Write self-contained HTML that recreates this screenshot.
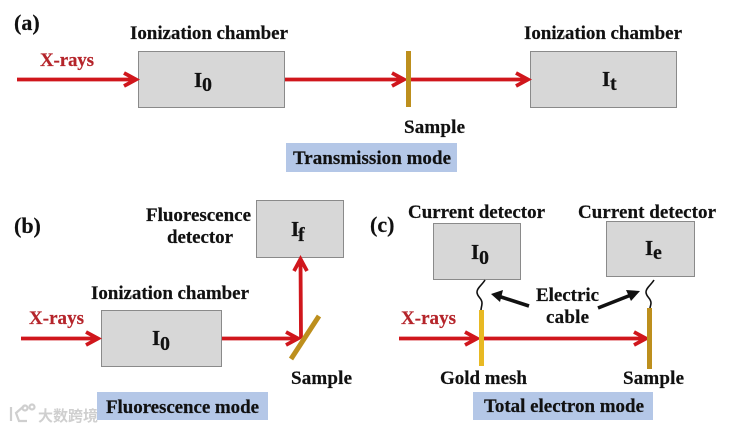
<!DOCTYPE html>
<html>
<head>
<meta charset="utf-8">
<style>
html,body{margin:0;padding:0;background:#fff;width:743px;height:429px;overflow:hidden}
svg{display:block;filter:blur(.3px)}
text{font-family:"Liberation Serif","Noto Serif CJK SC",serif;font-weight:bold;fill:#111;stroke:#111;stroke-width:.2}
.r{fill:#b5242a;stroke:#b5242a}
.box{fill:#d7d7d7;stroke:#8a8a8a;stroke-width:1}
.blue{fill:#b4c7e7}
.ray{stroke:#d0161c;stroke-width:3.8;fill:none}
.l{font-size:19px}
.s{font-size:21px}
.sub{font-size:20px}
.p{font-size:22px}
</style>
</head>
<body>
<svg width="743" height="429" viewBox="0 0 743 429" xmlns="http://www.w3.org/2000/svg">
<!-- Panel a -->
<text class="p" x="14" y="30">(a)</text>
<text class="l" x="130" y="39" textLength="158">Ionization chamber</text>
<text class="l" x="524" y="39" textLength="158">Ionization chamber</text>
<text class="l r" x="40" y="66" textLength="54">X-rays</text>
<rect class="box" x="138.5" y="51.5" width="146" height="56"/>
<rect class="box" x="530.5" y="51.5" width="146" height="56"/>
<path class="ray" d="M17 79.5H135M124 73L136 79.5L124 86"/>
<path class="ray" d="M285 79.5H404M392 73L404 79.5L392 86"/>
<path class="ray" d="M411 79.5H528M516 73L528 79.5L516 86"/>
<rect x="406" y="51" width="5" height="56" fill="#bd8f1d"/>
<text class="s" x="194" y="87">I</text><text class="sub" x="202" y="91">0</text>
<text class="s" x="602" y="86">I</text><text class="sub" x="610" y="90">t</text>
<text class="l" x="404" y="133" textLength="61">Sample</text>
<rect class="blue" x="286" y="143" width="171" height="29"/>
<text class="l" x="293" y="164" textLength="158">Transmission mode</text>

<!-- Panel b -->
<text class="p" x="14" y="233">(b)</text>
<text class="l" x="146" y="221" textLength="105">Fluorescence</text>
<text class="l" x="167" y="243" textLength="66">detector</text>
<rect class="box" x="256.5" y="200.5" width="87" height="57"/>
<text class="s" x="291" y="236">I</text><text class="sub" x="298" y="241">f</text>
<text class="l" x="91" y="299" textLength="158">Ionization chamber</text>
<text class="l r" x="29" y="324" textLength="55">X-rays</text>
<rect class="box" x="101.5" y="310.5" width="120" height="56"/>
<text class="s" x="152" y="345">I</text><text class="sub" x="160" y="350">0</text>
<path class="ray" d="M21 338.5H98M86 332L98 338.5L86 345"/>
<path class="ray" d="M222 338.5H298M286 332L298 338.5L286 345"/>
<path class="ray" d="M301 338L300.5 260M294 271L300.500 259L307 271"/>
<path d="M291 359L319 316" stroke="#bd8f1d" stroke-width="5" fill="none"/>
<text class="l" x="291" y="384" textLength="61">Sample</text>
<rect class="blue" x="97" y="392" width="171" height="28"/>
<text class="l" x="106" y="413" textLength="153">Fluorescence mode</text>

<!-- Panel c -->
<text class="p" x="370" y="232">(c)</text>
<text class="l" x="408" y="218" textLength="137">Current detector</text>
<text class="l" x="578" y="218" textLength="138">Current detector</text>
<rect class="box" x="433.5" y="223.5" width="87" height="56"/>
<rect class="box" x="606.5" y="221.5" width="88" height="55"/>
<text class="s" x="471" y="259">I</text><text class="sub" x="479" y="264">0</text>
<text class="s" x="645" y="255">I</text><text class="sub" x="653" y="259">e</text>
<path d="M485 280C482 285 477 288 477 292C477 297 482 298 482 303C482 306 481 308 481 310" stroke="#111" stroke-width="1.600" fill="none"/>
<path d="M654 280C651 285 646 288 646 292C646 297 651 298 651 303C651 305 650 307 650 308" stroke="#111" stroke-width="1.600" fill="none"/>
<path d="M529 306L498 296" stroke="#111" stroke-width="3.600"/>
<path d="M491 294L503 290L500 302Z" fill="#111"/>
<path d="M598 308L631 295" stroke="#111" stroke-width="3.600"/>
<path d="M640 291L631 301L626 290Z" fill="#111"/>
<text class="l" x="536" y="301" textLength="63">Electric</text>
<text class="l" x="546" y="323" textLength="43">cable</text>
<text class="l r" x="401" y="324" textLength="55">X-rays</text>
<path class="ray" d="M399 338.500H477M465 332L477 338.500L465 345"/>
<path class="ray" d="M484 338.500H646M634 332L646 338.500L634 345"/>
<rect x="479" y="310" width="5" height="56" fill="#e8b923"/>
<rect x="647" y="308" width="5" height="61" fill="#bd8f1d"/>
<text class="l" x="440" y="384" textLength="87">Gold mesh</text>
<text class="l" x="623" y="384" textLength="61">Sample</text>
<rect class="blue" x="473" y="392" width="180" height="28"/>
<text class="l" x="484" y="412" textLength="160">Total electron mode</text>

<!-- Watermark -->
<g fill="none" stroke="#cfcfcf" stroke-width="2.200">
<path d="M11 407V421M24 406L16 413L19 421H27"/>
<circle cx="25" cy="408" r="2.500"/>
<circle cx="32" cy="407" r="2.500"/>
</g>
<text x="38" y="421" style="font-size:15px;font-weight:bold;font-family:'Noto Sans CJK SC',sans-serif;fill:#cfcfcf;stroke:none">大数跨境</text>
</svg>
</body>
</html>
